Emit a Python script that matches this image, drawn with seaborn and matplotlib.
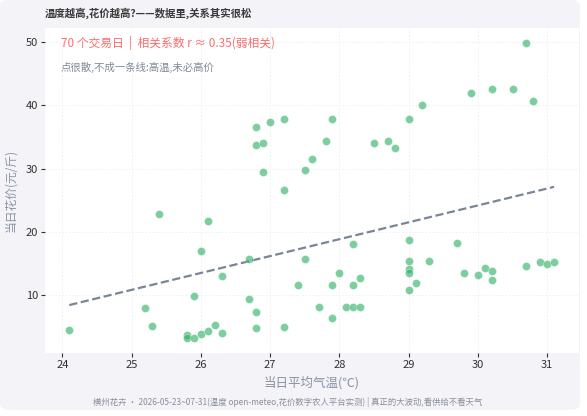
import pandas as pd
import seaborn as sns
import matplotlib.pyplot as plt
from matplotlib.patches import FancyBboxPatch

# 日均气温(℃) 和 当日花价(元/斤), 70 个交易日
temp = [24.1, 25.2, 25.3, 25.4, 26.1, 26.0, 26.3, 25.9, 25.8, 25.8,
        25.9, 26.0, 26.1, 26.2, 26.3, 26.7, 26.7, 26.8, 26.8, 27.2,
        27.5, 27.4, 27.7, 27.9, 27.9, 28.0, 28.1, 28.2, 28.3, 28.2,
        28.3, 28.2, 26.8, 27.0, 27.2, 27.9, 26.8, 26.9, 27.8, 28.5,
        27.6, 27.5, 26.9, 27.2, 30.7, 29.9, 30.2, 30.5, 30.8, 29.2,
        29.0, 28.7, 28.8, 29.0, 29.7, 29.0, 29.3, 29.0, 29.0, 29.1,
        29.0, 29.8, 30.0, 30.1, 30.2, 30.2, 30.7, 30.9, 31.0, 31.1]
price = [4.5, 8.0, 5.1, 22.8, 21.8, 17.0, 13.1, 9.9, 3.7, 3.3,
         3.2, 3.9, 4.3, 5.3, 4.1, 15.8, 9.5, 7.4, 4.9, 5.0,
         15.8, 11.6, 8.1, 11.7, 6.5, 13.5, 8.1, 8.2, 8.1, 11.7,
         12.7, 18.1, 36.5, 37.4, 37.9, 37.9, 33.8, 34.0, 34.3, 34.0,
         31.6, 29.8, 29.5, 26.7, 49.8, 41.9, 42.6, 42.5, 40.6, 40.0,
         37.8, 34.4, 33.3, 18.7, 18.2, 15.4, 15.4, 14.1, 13.6, 12.0,
         10.9, 13.5, 13.2, 14.3, 13.9, 12.4, 14.7, 15.3, 14.9, 15.2]

title = '温度越高,花价越高?——数据里,关系其实很松'
note1 = '70 个交易日  |  相关系数 r ≈ 0.35(弱相关)'
note2 = '点很散,不成一条线:高温,未必高价'
footer = '横州花卉 · 2026-05-23~07-31(温度 open-meteo,花价数字农人平台实测) | 真正的大波动,看供给不看天气'

df = pd.DataFrame({'temp': temp, 'price': price})

sns.set_theme(style='whitegrid')
plt.rcParams['font.family'] = ['Noto Sans CJK SC', 'DejaVu Sans']
plt.rcParams['axes.unicode_minus'] = False

fig = plt.figure(figsize=(5.87, 4.16), dpi=100)
fig.patch.set_facecolor('white')
bg = FancyBboxPatch((0, 0.015), 0.988, 0.985, boxstyle='round,pad=0,rounding_size=0.015',
                    transform=fig.transFigure, facecolor='#f3f3f8', edgecolor='none', zorder=-10)
fig.patches.append(bg)

ax = fig.add_axes([0.0767, 0.1514, 0.9097, 0.7813])
ax.set_zorder(1)
ax.set_facecolor('white')

sns.scatterplot(data=df, x='temp', y='price', color='#27ae60', alpha=0.6, s=34,
                edgecolor='white', linewidth=0.4, ax=ax, zorder=3)
sns.regplot(data=df, x='temp', y='price', scatter=False, ci=None, ax=ax,
            line_kws={'color': '#7a8597', 'linestyle': '--', 'linewidth': 1.6, 'zorder': 2})

ax.set_xlim(23.75, 31.46)
ax.set_ylim(0.9, 52.2)
ax.set_xticks(range(24, 32))
ax.set_yticks([10, 20, 30, 40, 50])

ax.grid(True, color='#efeff4', linestyle=(0, (2, 2)), linewidth=0.6)
for s in ax.spines.values():
    s.set_visible(False)
ax.tick_params(axis='both', which='both', length=3, width=0.8, color='#333333',
               labelsize=8, labelcolor='#333333', bottom=True, left=True, pad=2)

ax.set_xlabel('当日平均气温(℃)', fontsize=9, color='#8a93a3', labelpad=4)
ax.set_ylabel('当日花价(元/斤)', fontsize=8.5, color='#8a93a3', labelpad=6)

fig.text(0.0767, 0.968, title, fontsize=7.5, color='#3a3a3a', fontweight='bold',
         ha='left', va='center')
ax.text(0.03, 0.955, note1, transform=ax.transAxes, fontsize=8.5, color='#ff6b6b',
        ha='left', va='center')
ax.text(0.03, 0.88, note2, transform=ax.transAxes, fontsize=7.5, color='#7f8a99',
        ha='left', va='center')
fig.text(0.49, 0.033, footer, fontsize=6, color='#8a8f9a', ha='center', va='center')

fig.savefig('out.png', dpi=100, facecolor=fig.get_facecolor())
